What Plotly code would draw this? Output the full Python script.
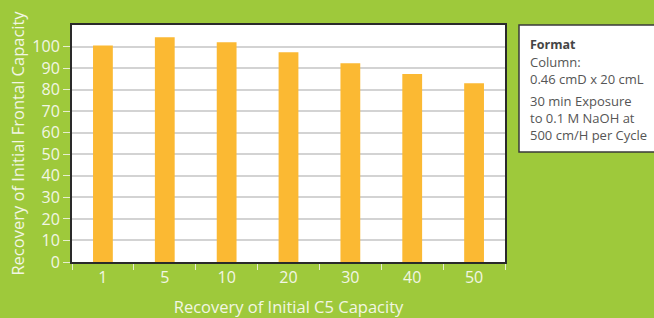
import plotly.graph_objects as go

categories = ["1", "5", "10", "20", "30", "40", "50"]
recovery = [100.5, 104.3, 102.0, 97.4, 92.3, 87.2, 83.0]
y_ticks = [0, 10, 20, 30, 40, 50, 60, 70, 80, 90, 100]
note_title = "Format"
note_block1 = ["Column:", "0.46 cmD x 20 cmL"]
note_block2 = ["30 min Exposure", "to 0.1 M NaOH at", "500 cm/H per Cycle"]

GREEN = "#9ec93b"
BAR = "#fbb933"
TXT = "#f2f6e4"
FONT = "Open Sans"

fig = go.Figure(go.Bar(x=categories, y=recovery, marker=dict(color=BAR, line=dict(width=0)), width=0.32,
                       hoverinfo="skip"))

fig.update_layout(
    width=654, height=318,
    paper_bgcolor=GREEN, plot_bgcolor="white",
    margin=dict(l=72, r=149, t=25, b=56),
    font=dict(family=FONT, size=16, color=TXT),
    showlegend=False,
)
fig.update_xaxes(
    type="category", tickson="boundaries", ticks="outside", ticklen=6, tickcolor="#e6eed0", tickwidth=1,
    showline=True, linecolor="#2a2a2a", linewidth=2, mirror=True, showgrid=False, automargin=False,
    tickfont=dict(size=16, color=TXT),
    title=dict(text="Recovery of Initial C5 Capacity", font=dict(size=16.5, color=TXT), standoff=21),
)
fig.update_yaxes(
    range=[0, 110], tickvals=y_ticks, ticks="outside", ticklen=7, tickcolor="#e6eed0", tickwidth=1,
    showline=True, linecolor="#2a2a2a", linewidth=2, mirror=True, automargin=False,
    showgrid=True, gridcolor="#d3d3d3", gridwidth=2, zeroline=False,
    tickfont=dict(size=16, color=TXT),
    title=dict(text="Recovery of Initial Frontal Capacity", font=dict(size=16.5, color=TXT), standoff=4),
)

# note box
fig.add_shape(type="rect", xref="paper", yref="paper",
              x0=(519 - 72) / 433, x1=(662 - 72) / 433,
              y0=(262 - 152) / 237, y1=(262 - 25) / 237,
              line=dict(color="#3a3a3a", width=1.5), fillcolor="white")
fig.add_annotation(xref="paper", yref="paper", x=(528 - 72) / 433, y=(262 - 45) / 237,
                   text="<b>" + note_title + "</b>", showarrow=False, xanchor="left", yanchor="middle",
                   font=dict(family=FONT, size=12.5, color="#454545"))
for block, yc in ((note_block1, 70.5), (note_block2, 117.5)):
    fig.add_annotation(xref="paper", yref="paper", x=(528 - 72) / 433, y=(262 - yc) / 237,
                       text="<br>".join(block), showarrow=False, xanchor="left", yanchor="middle",
                       align="left", font=dict(family=FONT, size=13, color="#555555"))

fig.write_html("out.html", config={"displayModeBar": False},
               post_script="document.body.style.margin='0';document.body.style.overflow='hidden';")
